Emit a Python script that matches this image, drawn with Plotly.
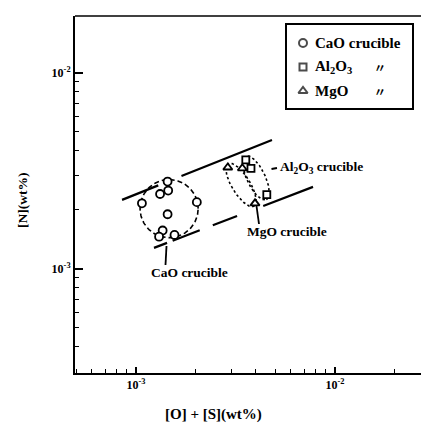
import numpy as np
import plotly.graph_objects as go

# ---------------- data ----------------
cao_x = [1.07e-3, 1.32e-3, 1.44e-3, 1.45e-3, 1.44e-3, 2.02e-3, 1.36e-3, 1.305e-3, 1.56e-3]
cao_y = [2.16e-3, 2.41e-3, 2.79e-3, 2.51e-3, 1.90e-3, 2.19e-3, 1.57e-3, 1.46e-3, 1.49e-3]

al2o3_x = [3.56e-3, 3.78e-3, 4.54e-3]
al2o3_y = [3.60e-3, 3.26e-3, 2.39e-3]

mgo_x = [2.89e-3, 3.42e-3, 3.96e-3]
mgo_y = [3.29e-3, 3.26e-3, 2.16e-3]

# band lines (end points, data units)
upper_x = [8.5e-4, 4.82e-3]
upper_y = [2.25e-3, 4.55e-3]
lower_x = [1.23e-3, 7.75e-3]
lower_y = [1.28e-3, 2.62e-3]

# grouping ellipses: centre x, centre y, semi-axis a, b (decades), angle (deg)
ell_cao = [1.466e-3, 2.03e-3, 0.146, 0.148, 0]
ell_mgo = [3.37e-3, 2.68e-3, 0.126, 0.046, -59]
ell_al = [4.01e-3, 2.91e-3, 0.122, 0.046, -65]

x_tickvals = [1e-3, 1e-2]
x_ticktext = ["10<sup>-3</sup>", "10<sup>-2</sup>"]
y_tickvals = [1e-3, 1e-2]
y_ticktext = ["10<sup>-3</sup>", "10<sup>-2</sup>"]
x_minor = [5e-4, 6e-4, 7e-4, 8e-4, 9e-4, 2e-3, 3e-3, 4e-3, 5e-3, 6e-3, 7e-3, 8e-3, 9e-3, 2e-2]
y_minor = [4e-4, 5e-4, 6e-4, 7e-4, 8e-4, 9e-4, 2e-3, 3e-3, 4e-3, 5e-3, 6e-3, 7e-3, 8e-3, 9e-3]

legend_names = ["CaO crucible", "Al<sub>2</sub>O<sub>3</sub>", "MgO"]
ditto = "〃"

FONT = "Liberation Serif"
W, H = 421, 423
L, R, T, B = 75, 0, 16, 50
PW, PH = W - L - R, H - T - B


def px2paper(px, py):
    return (px - L) / PW, (H - B - py) / PH


def ellipse(p, n=120):
    cx, cy, a, b, ang = p
    t = np.linspace(0, 2 * np.pi, n)
    th = np.radians(ang)
    lx = np.log10(cx) + a * np.cos(t) * np.cos(th) - b * np.sin(t) * np.sin(th)
    ly = np.log10(cy) + a * np.cos(t) * np.sin(th) + b * np.sin(t) * np.cos(th)
    return 10 ** lx, 10 ** ly


fig = go.Figure()

# band lines
fig.add_trace(go.Scatter(x=upper_x, y=upper_y, mode="lines",
                         line=dict(color="black", width=2.2, dash="39px,25px,98px,20px"),
                         showlegend=False, hoverinfo="skip"))
fig.add_trace(go.Scatter(x=lower_x, y=lower_y, mode="lines",
                         line=dict(color="black", width=2.2,
                                   dash="14px,6px,29px,14px,26px,28px,54px,20px"),
                         showlegend=False, hoverinfo="skip"))

# ellipses
ex, ey = ellipse(ell_cao)
fig.add_trace(go.Scatter(x=ex, y=ey, mode="lines",
                         line=dict(color="black", width=1.6, dash="5px,3px"),
                         showlegend=False, hoverinfo="skip"))
for p in (ell_mgo, ell_al):
    ex, ey = ellipse(p)
    fig.add_trace(go.Scatter(x=ex, y=ey, mode="lines",
                             line=dict(color="black", width=1.6, dash="2.5px,2.5px"),
                             showlegend=False, hoverinfo="skip"))

mk_line = dict(color="black", width=1.8)
fig.add_trace(go.Scatter(x=cao_x, y=cao_y, mode="markers",
                         marker=dict(symbol="circle", size=8, color="white", line=mk_line),
                         showlegend=False))
fig.add_trace(go.Scatter(x=al2o3_x, y=al2o3_y, mode="markers",
                         marker=dict(symbol="square", size=7, color="white", line=mk_line),
                         showlegend=False))
fig.add_trace(go.Scatter(x=mgo_x, y=mgo_y, mode="markers",
                         marker=dict(symbol="triangle-up", size=8, color="white", line=mk_line),
                         showlegend=False))

# legend symbols on a pixel-like overlay axis
leg_x = [303, 303, 303]
leg_y = [43, 67, 91]
leg_sym = ["circle", "square", "triangle-up"]
leg_size = [8, 7, 8]
fig.add_trace(go.Scatter(x=leg_x, y=leg_y, xaxis="x2", yaxis="y2", mode="markers",
                         marker=dict(symbol=leg_sym, size=leg_size, color="white",
                                     line=dict(color="black", width=2)),
                         showlegend=False, hoverinfo="skip"))

tickfont = dict(family=FONT, size=12, color="black", weight="bold")
hidden = dict(visible=False, showline=False, showgrid=False, zeroline=False,
              ticks="", showticklabels=False)
fig.update_layout(
    width=W, height=H,
    margin=dict(l=L, r=R, t=T, b=B, autoexpand=False),
    paper_bgcolor="white", plot_bgcolor="white",
    xaxis=dict(type="log", range=[-3.307, -1.568], showgrid=False, zeroline=False,
               showline=True, linecolor="black", linewidth=2,
               ticks="inside", ticklen=6, tickwidth=1.5, tickcolor="black",
               tickvals=x_tickvals, ticktext=x_ticktext, tickfont=tickfont,
               minor=dict(tickvals=x_minor, ticks="inside", ticklen=4,
                          tickwidth=1.3, tickcolor="black", showgrid=False)),
    yaxis=dict(type="log", range=[-3.531, -1.710], showgrid=False, zeroline=False,
               showline=True, linecolor="black", linewidth=2,
               ticks="inside", ticklen=8, tickwidth=1.5, tickcolor="black",
               tickvals=y_tickvals, ticktext=y_ticktext, tickfont=tickfont,
               minor=dict(tickvals=y_minor, ticks="inside", ticklen=4,
                          tickwidth=1.3, tickcolor="black", showgrid=False)),
    xaxis2=dict(overlaying="x", anchor="y2", range=[L, W], **hidden),
    yaxis2=dict(overlaying="y", anchor="x2", range=[H - B, T], side="left", **hidden),
    showlegend=False,
)

# top border
fig.add_shape(type="line", xref="paper", yref="paper", x0=0, x1=1, y0=1, y1=1,
              line=dict(color="black", width=1.6))

# legend box
fig.add_shape(type="rect", xref="x2", yref="y2", x0=286, x1=413, y0=24, y1=109,
              line=dict(color="black", width=2), fillcolor="rgba(0,0,0,0)")

lf = dict(family=FONT, size=15, color="black", weight="bold")
for name, yy in zip(legend_names, leg_y):
    fig.add_annotation(xref="x2", yref="y2", x=313, y=yy, text=name, showarrow=False,
                       xanchor="left", yanchor="middle", font=lf)
for yy in leg_y[1:]:
    fig.add_annotation(xref="x2", yref="y2", x=380, y=yy, text=ditto, showarrow=False,
                       xanchor="center", yanchor="middle",
                       font=dict(family="Noto Sans CJK JP", size=12, color="black",
                                 weight="bold"))

af = dict(family=FONT, size=13.5, color="black", weight="bold")
# CaO crucible label + pointer
fig.add_annotation(xref="x2", yref="y2", x=189, y=272, text="CaO crucible", showarrow=False,
                   xanchor="center", yanchor="middle", font=af)
fig.add_shape(type="line", xref="x2", yref="y2", x0=166.5, y0=246, x1=165.5, y1=265,
              line=dict(color="black", width=1.8))
# Al2O3 crucible label + pointer
fig.add_annotation(xref="x2", yref="y2", x=278, y=167,
                   text="Al<sub>2</sub>O<sub>3</sub> crucible", showarrow=False,
                   xanchor="left", yanchor="middle", font=af)
fig.add_shape(type="line", xref="x2", yref="y2", x0=271.5, y0=169, x1=277, y1=168,
              line=dict(color="black", width=1.8))
# MgO crucible label + pointer
fig.add_annotation(xref="x2", yref="y2", x=245, y=231, text="MgO crucible", showarrow=False,
                   xanchor="left", yanchor="middle", font=af)
fig.add_shape(type="line", xref="x2", yref="y2", x0=256.5, y0=206, x1=259, y1=224,
              line=dict(color="black", width=1.8))

# axis titles (paper coordinates, outside the plot area)
tx, ty = px2paper(213, 414)
fig.add_annotation(xref="paper", yref="paper", x=tx, y=ty, text="[O] + [S](wt%)",
                   showarrow=False, xanchor="center", yanchor="middle",
                   font=dict(family=FONT, size=15, color="black", weight="bold"))
tx, ty = px2paper(23, 201)
fig.add_annotation(xref="paper", yref="paper", x=tx, y=ty, text="[N](wt%)", showarrow=False,
                   textangle=-90, xanchor="center", yanchor="middle",
                   font=dict(family=FONT, size=13.5, color="black", weight="bold"))

fig.write_html("out.html",
               config={"displayModeBar": False},
               post_script="document.body.style.margin='0px';"
                           "document.body.style.overflow='hidden';")
